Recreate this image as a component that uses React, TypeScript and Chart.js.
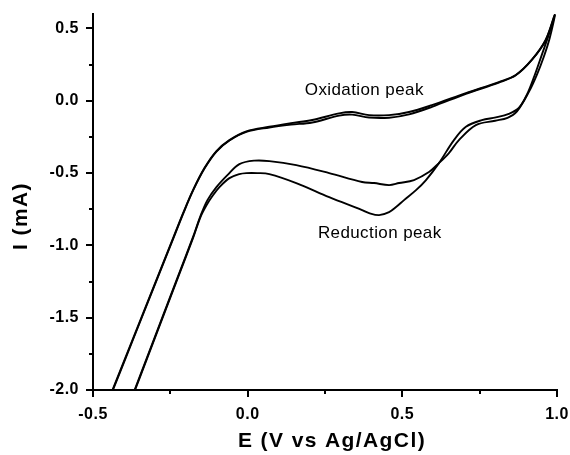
import React, { useEffect, useRef } from "react";
import { Chart, registerables } from "chart.js";

Chart.register(...registerables);

// Forward (anodic) scan, shared potentials for both cycles
const anodicE = [-0.4461, -0.3945, -0.3429, -0.2913, -0.2397, -0.2074, -0.1752, -0.1397, -0.101, -0.059, -0.0042, 0.07, 0.14, 0.2087, 0.2958, 0.3377, 0.3926, 0.4571, 0.5216, 0.5958, 0.7055, 0.8119, 0.8668, 0.9184, 0.9635, 0.9926];
const anodicI1 = [-2.049, -1.773, -1.496, -1.219, -0.943, -0.77, -0.611, -0.465, -0.348, -0.272, -0.212, -0.18, -0.155, -0.133, -0.087, -0.078, -0.099, -0.099, -0.078, -0.03, 0.053, 0.129, 0.178, 0.282, 0.42, 0.593];
const anodicI2 = [-2.056, -1.779, -1.502, -1.225, -0.948, -0.775, -0.615, -0.469, -0.351, -0.275, -0.215, -0.185, -0.165, -0.15, -0.103, -0.096, -0.116, -0.117, -0.094, -0.042, 0.048, 0.126, 0.176, 0.282, 0.42, 0.593];

// Reverse (cathodic) scan, cycle 1 (shallow reduction peak)
const cathodic1E = [0.9926, 0.9732, 0.9506, 0.9281, 0.9023, 0.87, 0.84, 0.8, 0.7377, 0.6829, 0.6506, 0.6184, 0.5861, 0.5377, 0.4894, 0.4571, 0.4087, 0.37, 0.2635, 0.1571, 0.07, 0.0216, -0.0268, -0.0655, -0.101, -0.13, -0.1526, -0.1768, -0.2261, -0.2755, -0.3248, -0.3742];
const cathodic1I = [0.593, 0.455, 0.316, 0.178, 0.04, -0.075, -0.118, -0.138, -0.168, -0.272, -0.362, -0.431, -0.493, -0.548, -0.569, -0.583, -0.569, -0.562, -0.5, -0.445, -0.417, -0.414, -0.438, -0.514, -0.597, -0.687, -0.797, -0.943, -1.219, -1.496, -1.773, -2.049];

// Reverse (cathodic) scan, cycle 2 (deep reduction peak)
const cathodic2E = [0.9926, 0.9765, 0.9571, 0.9345, 0.9087, 0.8765, 0.8442, 0.8023, 0.7571, 0.7055, 0.6668, 0.6184, 0.5765, 0.5442, 0.5055, 0.4797, 0.4571, 0.4248, 0.3926, 0.37, 0.2635, 0.1571, 0.07, 0.0313, -0.0042, -0.0268, -0.059, -0.0913, -0.1139, -0.1332, -0.1526, -0.1768, -0.2261, -0.2755, -0.3248, -0.3742];
const cathodic2I = [0.593, 0.434, 0.303, 0.178, 0.06, -0.05, -0.09, -0.115, -0.134, -0.18, -0.272, -0.431, -0.548, -0.618, -0.687, -0.735, -0.77, -0.791, -0.777, -0.756, -0.666, -0.569, -0.507, -0.5, -0.5, -0.507, -0.535, -0.597, -0.659, -0.723, -0.804, -0.95, -1.226, -1.503, -1.78, -2.056];

// Axis ticks
const xMajorTicks = [-0.5, 0, 0.5, 1.0];
const xMinorTicks = [-0.25, 0.25, 0.75];
const yMajorTicks = [-2.0, -1.5, -1.0, -0.5, 0, 0.5];
const yMinorTicks = [-1.75, -1.25, -0.75, -0.25, 0.25];

// Text
const xTitle = "E (V vs Ag/AgCl)";
const yTitle = "I (mA)";
const oxLabel = "Oxidation peak";
const oxPos = [0.377, 0.072];
const redLabel = "Reduction peak";
const redPos = [0.427, -0.917];

const toPts = (es: number[], is: number[]) => es.map((e, i) => ({ x: e, y: is[i] }));

export default function App() {
  const ref = useRef<HTMLCanvasElement>(null);
  useEffect(() => {
    document.body.style.margin = "0";
    const canvas = ref.current!;
    const loop1 = [...toPts(anodicE, anodicI1), ...toPts(cathodic1E, cathodic1I).slice(1)];
    const loop2 = [...toPts(anodicE, anodicI2), ...toPts(cathodic2E, cathodic2I).slice(1)];

    const decor = {
      id: "decor",
      beforeDraw(chart: any) {
        chart.ctx.letterSpacing = "0.5px";
      },
      afterDraw(chart: any) {
        const { ctx, chartArea, scales } = chart;
        const xs = scales.x;
        const ys = scales.y;
        ctx.save();
        ctx.strokeStyle = "#000";
        ctx.lineWidth = 2;
        ctx.beginPath();
        const xt = (v: number, len: number) => {
          const p = Math.round(xs.getPixelForValue(v));
          ctx.moveTo(p, chartArea.bottom);
          ctx.lineTo(p, chartArea.bottom + len);
        };
        const yt = (v: number, len: number) => {
          const p = Math.round(ys.getPixelForValue(v));
          ctx.moveTo(chartArea.left, p);
          ctx.lineTo(chartArea.left - len, p);
        };
        xMajorTicks.forEach((v) => xt(v, 7));
        xMinorTicks.forEach((v) => xt(v, 4));
        yMajorTicks.forEach((v) => yt(v, 7));
        yMinorTicks.forEach((v) => yt(v, 4));
        ctx.stroke();

        ctx.fillStyle = "#000";
        ctx.textBaseline = "middle";
        ctx.textAlign = "center";
        ctx.font = "bold 21px 'Liberation Sans', Arial, sans-serif";
        ctx.letterSpacing = "1.4px";
        ctx.fillText(xTitle, (chartArea.left + chartArea.right) / 2 + 7, 441.5);
        ctx.save();
        ctx.translate(21, 216);
        ctx.rotate(-Math.PI / 2);
        ctx.fillText(yTitle, 0, 0);
        ctx.restore();

        ctx.font = "17px 'Liberation Sans', Arial, sans-serif";
        ctx.letterSpacing = "0.4px";
        ctx.fillText(oxLabel, xs.getPixelForValue(oxPos[0]), ys.getPixelForValue(oxPos[1]));
        ctx.fillText(redLabel, xs.getPixelForValue(redPos[0]), ys.getPixelForValue(redPos[1]));
        ctx.restore();
      },
    };

    const lineDs = (data: any[]) => ({
      data,
      showLine: true,
      borderColor: "#000",
      borderWidth: 1.9,
      pointRadius: 0,
      tension: 0.35,
      fill: false,
    });

    const tickFont = { family: "'Liberation Sans', Arial, sans-serif", weight: "bold" as const, size: 16 };

    const chart = new Chart(canvas, {
      type: "scatter",
      data: { datasets: [lineDs(loop1), lineDs(loop2)] },
      options: {
        animation: false,
        responsive: false,
        events: [],
        layout: { padding: { left: 0, right: 13, top: 14, bottom: 0 } },
        plugins: { legend: { display: false }, tooltip: { enabled: false } },
        scales: {
          x: {
            type: "linear",
            min: -0.5,
            max: 1.0,
            grid: { display: false, drawTicks: true, tickLength: 15 },
            border: { display: true, color: "#000", width: 2 },
            ticks: {
              stepSize: 0.5,
              includeBounds: false,
              color: "#000",
              font: tickFont,
              padding: 0,
              maxRotation: 0,
              callback: (v: any) => Number(v).toFixed(1),
            },
            afterFit: (s: any) => {
              s.height = 65;
            },
          },
          y: {
            type: "linear",
            min: -2.0,
            max: 0.6,
            grid: { display: false, drawTicks: true, tickLength: 14 },
            border: { display: true, color: "#000", width: 2 },
            ticks: {
              stepSize: 0.5,
              includeBounds: false,
              color: "#000",
              font: tickFont,
              padding: 0,
              callback: (v: any) => Number(v).toFixed(1),
            },
            afterFit: (s: any) => {
              s.width = 93;
            },
          },
        },
      },
      plugins: [decor],
    });
    return () => chart.destroy();
  }, []);

  return (
    <div style={{ width: 570, height: 455, background: "#fff" }}>
      <canvas ref={ref} width={570} height={455} style={{ display: "block" }} />
    </div>
  );
}
